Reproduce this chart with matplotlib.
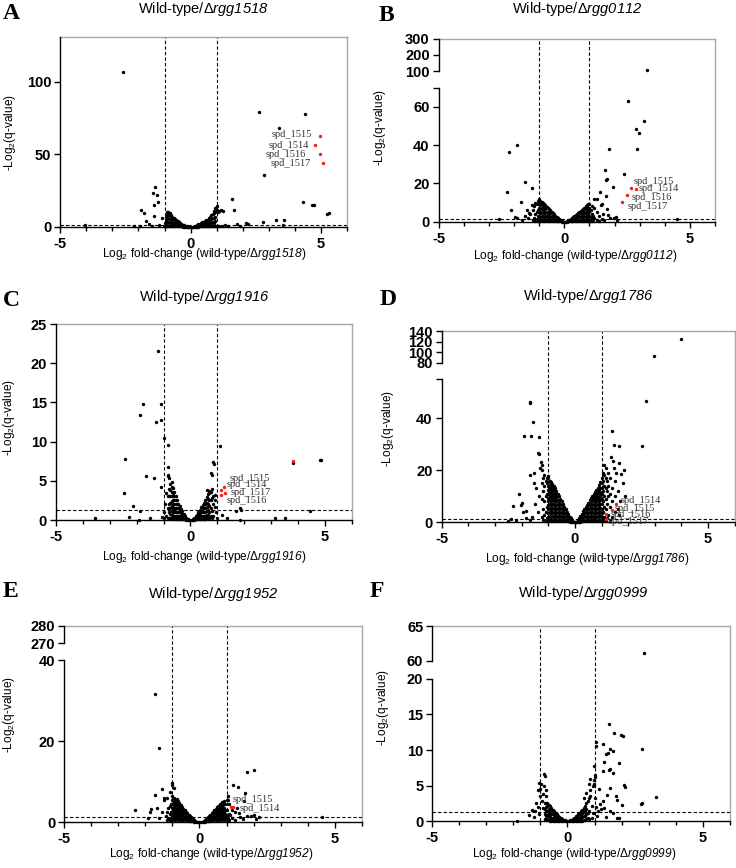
import numpy as np
import matplotlib
matplotlib.use('Agg')
import matplotlib.pyplot as plt
from matplotlib.ticker import MultipleLocator, NullLocator

plt.rcParams['font.family'] = ['Liberation Sans', 'DejaVu Sans']
plt.rcParams['mathtext.fontset'] = 'custom'
plt.rcParams['mathtext.rm'] = 'Liberation Sans'
plt.rcParams['mathtext.it'] = 'Liberation Sans:italic'
plt.rcParams['mathtext.sf'] = 'Liberation Sans:italic'
plt.rcParams['mathtext.bf'] = 'Liberation Sans:bold'

# ------------------------------------------------------------------ data
mutants = ['rgg1518', 'rgg0112', 'rgg1916', 'rgg1786', 'rgg1952', 'rgg0999']
letters = ['A', 'B', 'C', 'D', 'E', 'F']
fc_cut = 1.0
q_cut = 1.3
x_ticks = [-5, 0, 5]

# dense central clouds: (log2FC, [-log2 q values at that fold change])
a_cloud = [(-1.00, [0.5, 3]), (-0.95, [1, 4, 7]), (-0.90, [0.5, 3, 5.5, 8, 10]),
           (-0.85, [1, 3.5, 6, 8.5, 10.5]), (-0.80, [0.5, 3, 5.5, 8, 9.5]),
           (-0.75, [1, 3.5, 6, 8]), (-0.70, [0.5, 3, 5.5, 7]), (-0.65, [1, 3, 5, 6]),
           (-0.60, [0.5, 2.5, 4.5, 5.5]), (-0.55, [1, 3, 4.5]), (-0.50, [0.5, 2, 3.8]),
           (-0.45, [0.8, 2.3, 3.3]), (-0.40, [0.4, 1.6, 2.7]), (-0.35, [0.6, 1.6, 2.2]),
           (-0.30, [0.3, 1.1, 1.7]), (-0.25, [0.3, 0.9, 1.3]), (-0.20, [0.2, 0.8]),
           (-0.15, [0.1, 0.5]), (-0.10, [0.1, 0.3]), (-0.05, [0.05]), (0.00, [0.0]),
           (0.05, [0.05]), (0.10, [0.1, 0.3]), (0.15, [0.1, 0.5]), (0.20, [0.2, 0.8]),
           (0.25, [0.3, 1.0, 1.4]), (0.30, [0.3, 1.2, 1.8]), (0.35, [0.5, 1.5, 2.3]),
           (0.40, [0.4, 1.6, 2.8]), (0.45, [0.8, 2.2, 3.3]), (0.50, [0.5, 2, 3.6]),
           (0.55, [1, 2.5, 4]), (0.60, [0.5, 2.5, 4.5]), (0.65, [1, 3, 5]),
           (0.70, [0.5, 3, 5.5, 6]), (0.75, [1, 3.5, 6, 7]), (0.80, [0.5, 3, 5.5, 8]),
           (0.85, [1, 3.5, 6, 9]), (0.90, [0.5, 3, 6, 9.5, 11]), (0.95, [1, 4, 7, 10, 13]),
           (1.00, [0.5, 12, 14.5])]
b_cloud = [(-1.25, [1, 6]), (-1.20, [2, 8]), (-1.15, [0.5, 4, 10]), (-1.10, [1.5, 5, 9]),
           (-1.05, [0.5, 3, 6, 11]), (-1.00, [1, 3, 5, 7, 9, 12]),
           (-0.95, [0.5, 2.5, 4.5, 6.5, 8.5, 11]), (-0.90, [1, 3, 5, 7, 9, 10.5]),
           (-0.85, [0.5, 2.5, 4.5, 6.5, 8.5, 10]), (-0.80, [1, 3, 5, 7, 9]),
           (-0.75, [0.5, 2.5, 4.5, 6.5, 8.5]), (-0.70, [1, 3, 5, 7.5]),
           (-0.65, [0.5, 2.5, 4.5, 7]), (-0.60, [1, 3, 5, 6.5]), (-0.55, [0.5, 2.5, 4.5, 6]),
           (-0.50, [1, 3, 5]), (-0.45, [0.5, 2.5, 4.3]), (-0.40, [1, 2.5, 3.8]),
           (-0.35, [0.5, 2, 3.2]), (-0.30, [0.5, 1.5, 2.6]), (-0.25, [0.3, 1.2, 2]),
           (-0.20, [0.3, 1.2]), (-0.15, [0.2, 0.8]), (-0.10, [0.1, 0.4]), (-0.05, [0.05]),
           (0.00, [0.0]), (0.05, [0.05]), (0.10, [0.1, 0.4]), (0.15, [0.2, 0.7]),
           (0.20, [0.3, 1.1]), (0.25, [0.3, 1.0, 1.6]), (0.30, [0.5, 1.3, 2.1]),
           (0.35, [0.5, 1.5, 2.6]), (0.40, [1, 2, 3.2]), (0.45, [0.5, 2.2, 3.7]),
           (0.50, [1, 2.5, 4.2]), (0.55, [0.5, 2.5, 4.6]), (0.60, [1, 3, 5.2]),
           (0.65, [0.5, 2.5, 4.5, 5.8]), (0.70, [1, 3, 5, 6.3]), (0.75, [0.5, 2.5, 4.5, 6.8]),
           (0.80, [1, 3, 5, 7.3]), (0.85, [0.5, 2.5, 4.5, 6.5, 8]), (0.90, [1, 3, 5, 7, 8.5]),
           (0.95, [0.5, 2.5, 4.5, 6.5, 9]), (1.00, [1, 3, 5, 7, 9.5]), (1.05, [0.5, 2.5, 6]),
           (1.10, [1.5, 4, 8]), (1.15, [0.5, 3]), (1.20, [2, 7]), (1.30, [1, 5]), (1.40, [0.5, 3])]
c_cloud = [(-0.85, [0.3, 1.5, 3]), (-0.80, [0.2, 1, 2, 3, 4]),
           (-0.75, [0.3, 0.8, 1.5, 2.2, 3, 3.8, 4.6]),
           (-0.70, [0.2, 0.7, 1.2, 1.8, 2.4, 3, 3.6, 4.2, 4.9]),
           (-0.65, [0.1, 0.5, 1, 1.5, 2, 2.5, 3, 3.5, 4.1]),
           (-0.60, [0.1, 0.5, 1, 1.5, 2, 2.5, 3, 3.6]), (-0.55, [0.1, 0.5, 1, 1.5, 2, 2.5, 3.1]),
           (-0.50, [0.1, 0.5, 1, 1.5, 2, 2.6]), (-0.45, [0.1, 0.5, 1, 1.5, 2.1]),
           (-0.40, [0.1, 0.5, 1, 1.4, 1.8]), (-0.35, [0.1, 0.5, 0.9, 1.4]),
           (-0.30, [0.1, 0.4, 0.8, 1.1]), (-0.25, [0.1, 0.4, 0.8]), (-0.20, [0.1, 0.3, 0.55]),
           (-0.15, [0.05, 0.3]), (-0.10, [0.05, 0.15]), (-0.05, [0.03]), (0.00, [0.0]),
           (0.05, [0.03]), (0.10, [0.05, 0.15]), (0.15, [0.05, 0.3]), (0.20, [0.1, 0.3, 0.5]),
           (0.25, [0.1, 0.4, 0.7]), (0.30, [0.1, 0.4, 0.8, 1.0]), (0.35, [0.1, 0.5, 0.9, 1.3]),
           (0.40, [0.1, 0.5, 1, 1.6]), (0.45, [0.1, 0.5, 1, 1.5, 1.9]),
           (0.50, [0.1, 0.5, 1, 1.5, 2.2]), (0.55, [0.1, 0.5, 1, 1.5, 2, 2.5]),
           (0.60, [0.2, 0.6, 1.1, 1.6, 2.2, 2.9]), (0.65, [0.2, 0.7, 1.3, 2, 2.7, 3.3]),
           (0.70, [0.3, 1, 1.8, 2.6, 3.5]), (0.75, [0.5, 1.5, 2.5, 3.6]),
           (0.80, [0.3, 1.2, 2.8, 4.0]), (0.85, [0.5, 2])]
d_cloud = [(-1.25, [2, 9, 15]), (-1.20, [1, 5, 12, 17]), (-1.15, [3, 8, 14, 18]),
           (-1.10, [0.5, 4, 10, 16]), (-1.05, [1.5, 6, 11, 15, 17]),
           (-1.00, [0.5, 2, 3.5, 5, 6.5, 8, 9.5, 11, 12.5, 14, 15.5, 17, 17.8]),
           (-0.95, [1, 2.5, 4, 5.5, 7, 8.5, 10, 11.5, 13, 14.5, 16]),
           (-0.90, [0.5, 2, 3.5, 5, 6.5, 8, 9.5, 11, 12.5, 14, 15.5]),
           (-0.85, [1, 2.5, 4, 5.5, 7, 8.5, 10, 11.5, 13, 14.8]),
           (-0.80, [0.5, 2, 3.5, 5, 6.5, 8, 9.5, 11, 12.5, 14]),
           (-0.75, [1, 2.5, 4, 5.5, 7, 8.5, 10, 11.5, 13]),
           (-0.70, [0.5, 2, 3.5, 5, 6.5, 8, 9.5, 11, 12]),
           (-0.65, [1, 2.5, 4, 5.5, 7, 8.5, 10, 11]), (-0.60, [0.5, 2, 3.5, 5, 6.5, 8, 10]),
           (-0.55, [1, 2.5, 4, 5.5, 7, 9]), (-0.50, [0.5, 2, 3.5, 5, 6.5, 8]),
           (-0.45, [1, 2.5, 4, 5.5, 7]), (-0.40, [0.5, 2, 3.5, 5, 6]), (-0.35, [1, 2.5, 4, 5]),
           (-0.30, [0.5, 2, 3.2, 4]), (-0.25, [0.5, 1.5, 2.5, 3.2]), (-0.20, [0.3, 1.2, 2.2]),
           (-0.15, [0.3, 1, 1.6]), (-0.10, [0.2, 0.8]), (-0.05, [0.1, 0.3]), (0.00, [0.0]),
           (0.05, [0.1, 0.3]), (0.10, [0.2, 0.8]), (0.15, [0.3, 1, 1.6]), (0.20, [0.3, 1.2, 2.4]),
           (0.25, [0.5, 1.5, 2.5, 3.3]), (0.30, [0.5, 2, 3.2, 4.2]), (0.35, [1, 2.5, 4, 5.1]),
           (0.40, [0.5, 2, 3.5, 5, 6]), (0.45, [1, 2.5, 4, 5.5, 6.8]),
           (0.50, [0.5, 2, 3.5, 5, 6.5, 7.6]), (0.55, [1, 2.5, 4, 5.5, 7, 8.4]),
           (0.60, [0.5, 2, 3.5, 5, 6.5, 8, 9.2]), (0.65, [1, 2.5, 4, 5.5, 7, 8.5, 10]),
           (0.70, [0.5, 2, 3.5, 5, 6.5, 8, 9.5, 11]),
           (0.75, [1, 2.5, 4, 5.5, 7, 8.5, 10, 11.7]),
           (0.80, [0.5, 2, 3.5, 5, 6.5, 8, 9.5, 11, 12.4]),
           (0.85, [1, 2.5, 4, 5.5, 7, 8.5, 10, 11.5, 13.3]),
           (0.90, [0.5, 2, 3.5, 5, 6.5, 8, 9.5, 11, 12.5, 14.3]),
           (0.95, [1, 2.5, 4, 5.5, 7, 8.5, 10, 11.5, 13, 15.5]),
           (1.00, [0.5, 2, 3.5, 5, 7, 9, 11, 13, 15, 17]), (1.05, [1, 4, 8, 12, 16, 19]),
           (1.10, [2, 6, 10, 14, 18, 22]), (1.15, [0.5, 5, 9, 13, 17, 21]),
           (1.20, [1.5, 7, 12, 16]), (1.25, [3, 10, 14, 19]), (1.30, [1, 6, 11]),
           (1.40, [2, 8, 13]), (1.50, [4, 10, 16])]
e_cloud = [(-1.20, [0.5, 2.5]), (-1.15, [1, 3.5]), (-1.10, [0.5, 2, 4]), (-1.05, [1, 2.5, 4.5]),
           (-1.00, [0.5, 1.5, 2.5, 3.5, 4.5, 5.5, 6.5]), (-0.95, [1, 2, 3, 4, 5, 6]),
           (-0.90, [0.5, 1.5, 2.5, 3.5, 4.5, 5.5]), (-0.85, [1, 2, 3, 4, 5, 5.8]),
           (-0.80, [0.5, 1.5, 2.5, 3.5, 4.5, 5.2]), (-0.75, [1, 2, 3, 4, 4.8]),
           (-0.70, [0.5, 1.5, 2.5, 3.5, 4.3]), (-0.65, [1, 2, 3, 3.9]),
           (-0.60, [0.5, 1.5, 2.5, 3.4]), (-0.55, [1, 2, 3]), (-0.50, [0.5, 1.5, 2.6]),
           (-0.45, [0.5, 1.3, 2.2]), (-0.40, [0.4, 1.1, 1.8]), (-0.35, [0.3, 0.9, 1.5]),
           (-0.30, [0.3, 1.2]), (-0.25, [0.2, 0.9]), (-0.20, [0.1, 0.6]), (-0.15, [0.1, 0.35]),
           (-0.10, [0.1]), (-0.05, [0.05]), (0.00, [0.0]), (0.05, [0.05]), (0.10, [0.1]),
           (0.15, [0.1, 0.35]), (0.20, [0.1, 0.6]), (0.25, [0.2, 0.9]), (0.30, [0.3, 1.2]),
           (0.35, [0.3, 0.9, 1.6]), (0.40, [0.4, 1.1, 1.9]), (0.45, [0.5, 1.3, 2.2]),
           (0.50, [0.5, 1.5, 2.6]), (0.55, [1, 2, 3]), (0.60, [0.5, 1.5, 2.5, 3.3]),
           (0.65, [1, 2, 3, 3.7]), (0.70, [0.5, 1.5, 2.5, 3.5, 4.0]),
           (0.75, [1, 2, 3, 4, 4.4]), (0.80, [0.5, 1.5, 2.5, 3.5, 4.5]),
           (0.85, [1, 2, 3, 4, 4.9]), (0.90, [0.5, 1.5, 2.5, 3.5, 4.5, 5.2]),
           (0.95, [1, 2, 3, 4.5]), (1.00, [0.5, 1.5, 3, 5.5]), (1.05, [1, 6.5]),
           (1.10, [0.5, 2]), (1.20, [1, 3]), (1.30, [0.5, 2.5])]
f_cloud = [(-0.85, [0.3, 1, 1.7, 2.5]), (-0.80, [0.2, 0.8, 1.4, 2, 2.6]),
           (-0.75, [0.3, 0.9, 1.5, 2.1, 2.6]), (-0.70, [0.2, 0.7, 1.2, 1.7, 2.3]),
           (-0.65, [0.1, 0.6, 1.1, 1.6, 2.1]), (-0.60, [0.1, 0.5, 1, 1.5, 1.9]),
           (-0.55, [0.1, 0.5, 1, 1.6]), (-0.50, [0.1, 0.5, 0.9, 1.4]),
           (-0.45, [0.1, 0.5, 0.9, 1.2]), (-0.40, [0.1, 0.4, 0.8, 1.0]),
           (-0.35, [0.1, 0.4, 0.8]), (-0.30, [0.1, 0.35, 0.65]), (-0.25, [0.05, 0.3, 0.5]),
           (-0.20, [0.05, 0.35]), (-0.15, [0.05, 0.25]), (-0.10, [0.03, 0.12]),
           (-0.05, [0.02]), (0.00, [0.0]), (0.05, [0.02]), (0.10, [0.03, 0.12]),
           (0.15, [0.05, 0.25]), (0.20, [0.05, 0.35]), (0.25, [0.05, 0.3, 0.5]),
           (0.30, [0.1, 0.4, 0.7]), (0.35, [0.1, 0.4, 0.8]), (0.40, [0.1, 0.5, 1.0]),
           (0.45, [0.1, 0.5, 0.9, 1.2]), (0.50, [0.1, 0.5, 1, 1.4]),
           (0.55, [0.1, 0.6, 1.1, 1.6]), (0.60, [0.2, 0.7, 1.3, 1.9]),
           (0.65, [0.2, 0.8, 1.5, 2.2]), (0.70, [0.3, 1, 1.7, 2.5]), (0.75, [0.5, 1.2, 2.8]),
           (0.80, [0.3, 1.5, 3.2])]

# individual genes outside the cloud: (log2FC, -log2 q)
a_genes = [(-2.59, 106.4), (2.64, 79.4), (4.40, 78.0), (3.40, 68.4), (2.81, 35.5), (1.59, 19.2),
           (1.65, 11.9), (4.31, 16.9), (4.67, 15.3), (4.73, 15.1), (5.24, 9.2), (5.31, 9.6),
           (3.58, 5.0), (3.26, 4.6), (2.77, 3.4), (2.13, 2.7), (1.78, 2.1), (3.55, 1.1),
           (-1.36, 27.2), (-1.45, 23.3), (-1.29, 22.2), (-1.27, 17.4), (-1.42, 14.9),
           (-1.90, 11.4), (-1.78, 9.6), (-1.40, 7.8), (-1.08, 6.2), (-1.73, 3.9), (-1.96, 0.9),
           (-4.05, 1.1), (-2.19, 0.5), (-0.91, 3.2), (-1.04, 0.5), (1.05, 10), (1.1, 11),
           (1.15, 12), (1.26, 11), (1.2, 1), (1.3, 1.5), (1.05, 1), (1.1, 0.5), (-1.2, 1.5),
           (-1.5, 0.8), (-1.6, 2), (1.45, 1), (1.9, 0.8), (2.2, 1.8)]
b_genes = [(3.28, 108), (2.53, 63.1), (3.16, 52.5), (2.84, 48.4), (2.97, 46.1), (2.88, 37.8),
           (1.78, 37.8), (1.63, 26.9), (2.39, 25.1), (1.71, 22.2), (1.65, 21.7), (1.95, 17.9),
           (1.41, 15.6), (1.66, 13.5), (1.51, 9.5), (1.18, 11.8), (1.74, 3.5), (1.98, 1.7),
           (4.5, 1.4), (-1.87, 40.2), (-2.22, 36.2), (-1.57, 20.5), (-1.30, 17.7), (-2.30, 15.3),
           (-1.71, 10.2), (-2.14, 6.1), (-1.49, 6), (-1.39, 4.8), (-1.95, 2.6), (-2.59, 1.4),
           (1.55, 4), (1.6, 1), (1.7, 6.5), (1.45, 8.5), (1.8, 2), (1.5, 1.5), (-1.35, 4),
           (-1.45, 2), (-1.55, 3), (-1.7, 1), (-1.9, 2), (-1.3, 8.5), (2.05, 2.2), (2.1, 1.0),
           (1.3, 12)]
c_genes = [(-1.21, 21.5), (-1.75, 14.8), (-1.11, 14.8), (-1.86, 13.4), (-1.29, 12.5),
           (-1.10, 12.8), (-0.98, 10.5), (-0.85, 9.6), (-2.45, 7.8), (-0.83, 6.8), (-1.67, 5.6),
           (-1.36, 5.3), (-2.48, 3.5), (-2.13, 1.8), (-1.87, 1.2), (-2.28, 0.4), (-3.56, 0.3),
           (-1.93, 0.0), (-1.52, 0.3), (-0.84, 5.7), (-0.82, 5.6), (-0.79, 5.3), (-1.09, 4.2),
           (1.11, 9.4), (0.85, 7.4), (0.88, 7.1), (0.77, 6.0), (0.80, 5.7), (0.63, 3.8),
           (0.70, 3.7), (3.8, 7.3), (4.85, 7.7), (4.82, 7.6), (1.84, 1.5), (1.87, 1.3),
           (1.70, 1.1), (4.44, 1.1), (3.51, 0.3), (3.14, 0.2), (1.35, 0.2), (1.84, 0.0),
           (1.16, 0.6), (-1.0, 0.2), (-0.98, 1.0), (-0.95, 2.0), (-0.92, 0.5), (-1.05, 0.4),
           (-0.9, 3.4), (1.0, 0.3), (0.95, 1.0), (0.92, 2.5), (0.9, 3.2), (0.85, 3.0),
           (0.93, 1.6)]
d_genes = [(3.98, 125.8), (2.96, 92.8), (2.68, 46.8), (2.51, 29.4), (1.39, 35.1), (1.48, 29.7),
           (1.66, 29.5), (1.66, 22.9), (1.83, 20.0), (1.42, 23.7), (-1.69, 46.4), (-1.69, 45.8),
           (-1.57, 38.7), (-1.90, 33.2), (-1.64, 33.3), (-1.35, 32.7), (-1.39, 26.8),
           (-1.33, 26.3), (-1.28, 23.3), (-1.22, 22.1), (-1.52, 19.1), (-1.70, 18.2),
           (-1.22, 20.1), (-2.08, 10.8), (-2.32, 6.3), (-1.98, 7.3), (-2.01, 6.7), (-1.82, 4.4),
           (-2.39, 1.2), (-1.35, 10), (-1.4, 4), (-1.5, 7), (-1.45, 13), (-1.6, 2), (-1.55, 15),
           (-1.3, 21), (-1.7, 0.8), (-1.85, 1.5), (-1.95, 4), (-2.5, 0.5), (-2.2, 1), (1.6, 12),
           (1.7, 8), (1.65, 3), (1.8, 15), (1.75, 18.5), (1.9, 10), (1.55, 19), (1.45, 21),
           (1.35, 25), (1.3, 17), (1.6, 5)]
e_genes = [(-1.64, 31.6), (-1.51, 18.3), (-1.37, 8.3), (-1.63, 6.7), (-1.80, 3.2), (-2.37, 3.1),
           (-1.58, 3.5), (-1.89, 1.0), (2.0, 13.0), (1.75, 12.5), (1.23, 9.1), (1.43, 8.6),
           (1.69, 7.2), (1.63, 5.2), (2.02, 1.9), (2.19, 1.2), (4.53, 1.4), (1.48, 2.2),
           (1.75, 1.6), (1.14, 1.8), (-1.3, 5.5), (-1.25, 1.5), (-1.4, 2.5), (-1.5, 1),
           (-1.02, 9.2), (-1.0, 9.6), (-0.95, 8.5), (-1.1, 7.5), (-1.2, 6), (1.5, 1.2),
           (1.4, 3.5), (1.6, 0.7), (1.9, 1.5), (2.1, 0.8), (1.1, 4.5), (1.05, 5.5),
           (-1.83, 2.6), (-1.33, 5.9)]
f_genes = [(2.84, 61.1), (1.53, 13.7), (1.73, 12.4), (1.98, 12.1), (2.04, 11.9), (1.06, 11.1),
           (1.31, 10.9), (1.58, 10.1), (1.43, 9.5), (1.49, 9.6), (1.70, 9.8), (2.74, 10.2),
           (1.04, 10.5), (1.89, 8.2), (1.36, 8.3), (1.58, 7.4), (1.52, 7.2), (1.33, 7.0),
           (1.70, 6.8), (1.02, 6.2), (0.96, 4.9), (1.15, 4.6), (1.56, 4.7), (2.09, 5.1),
           (2.11, 4.8), (1.46, 3.7), (1.80, 3.5), (1.83, 3.0), (2.0, 2.3), (2.74, 2.5),
           (2.72, 2.4), (3.27, 3.4), (1.31, 2.8), (1.36, 1.8), (1.58, 1.4), (1.70, 1.1),
           (1.43, 0.6), (1.83, 0.4), (1.91, 0.4), (0.99, 5.8), (0.99, 5.3), (0.97, 7.7),
           (0.84, 6.0), (0.62, 3.3), (0.7, 4.0), (0.78, 5.2), (0.82, 4.4), (0.85, 3.6),
           (0.9, 2.2), (0.95, 1.2), (0.92, 0.5), (1.0, 6.5), (1.02, 3.2), (1.05, 2.0),
           (1.1, 0.8), (1.12, 1.5), (1.2, 2.4), (1.25, 1.7), (-0.88, 6.7), (-0.84, 6.3),
           (-1.07, 5.4), (-0.98, 5.2), (-0.86, 5.0), (-1.1, 4.4), (-0.79, 4.4), (-1.02, 3.6),
           (-0.78, 3.5), (-1.15, 2.5), (-1.2, 1.5), (-1.05, 1.0), (-1.25, 0.6), (-1.41, 0.9),
           (-1.88, 0.05), (-0.95, 2.8), (-0.92, 1.8), (-1.1, 2.0), (-1.3, 1.6), (-0.9, 3.8),
           (-1.0, 4.6)]

# highlighted (red) genes
a_red = [(4.95, 62.7), (4.76, 56.5), (4.95, 50.1), (5.06, 43.9)]
b_red = [(2.67, 17.5), (2.86, 17.0), (2.48, 13.9), (2.31, 10.4)]
c_red = [(1.25, 4.15), (1.14, 3.83), (1.28, 3.5), (1.14, 3.19), (3.8, 7.5)]
d_red = [(1.56, 6.9), (1.41, 4.9), (1.18, 3.1), (1.17, 1.4)]
e_red = [(1.17, 3.9), (1.25, 3.7)]
f_red = []

a_names = ['spd_1515', 'spd_1514', 'spd_1516', 'spd_1517']
b_names = ['spd_1515', 'spd_1514', 'spd_1516', 'spd_1517']
c_names = ['spd_1515', 'spd_1514', 'spd_1517', 'spd_1516']
d_names = ['spd_1514', 'spd_1515', 'spd_1516', 'spd_1517']
e_names = ['spd_1515', 'spd_1514']
f_names = []

a_yticks = [0, 50, 100]
b_yticks = [0, 20, 40, 60, 70, 100, 200, 300]
c_yticks = [0, 5, 10, 15, 20, 25]
d_yticks = [0, 20, 40, 55, 80, 100, 120, 140]
e_yticks = [0, 20, 40, 270, 280]
f_yticks = [0, 5, 10, 15, 20, 60, 65]
b_unlabeled = [70]
d_unlabeled = [55]

# ------------------------------------------------------------------ layout (pixels)
W, H = 736, 868
layout = [
    dict(rect=(60.3, 37, 347, 227), bd=[0, 130.8], bp=[0, 190], segs=[(0, 130.8)],
         title=(203, 13.3), letter=(3, 19.3), xl=(204, 256.7), yl=(10, 133),
         names_at=[(4.67, 62.2), (4.54, 54.7), (4.41, 48.5), (4.63, 42.1)], ha='right'),
    dict(rect=(438.7, 38.7, 715, 221.7), bd=[0, 70, 100, 300], bp=[0, 134, 150.4, 183],
         segs=[(0, 70), (100, 300)],
         title=(577, 12.7), letter=(379, 20.7), xl=(575, 259.3), yl=(380.5, 128),
         names_at=[(2.75, 19.6), (2.97, 16.1), (2.68, 11.3), (2.51, 6.6)], ha='left'),
    dict(rect=(56, 324, 351.7, 520), bd=[0, 25], bp=[0, 196], segs=[(0, 25)],
         title=(204, 301), letter=(3, 306), xl=(204, 560), yl=(9, 418),
         names_at=[(1.45, 5.0), (1.35, 4.2), (1.51, 3.2), (1.35, 2.2)], ha='left'),
    dict(rect=(441.7, 331.3, 734.7, 522.3), bd=[0, 55, 80, 140], bp=[0, 143, 159.6, 191],
         segs=[(0, 55), (80, 140)],
         title=(588, 300), letter=(380, 305), xl=(587, 561.7), yl=(388, 429),
         names_at=[(1.72, 7.3), (1.51, 4.5), (1.36, 2.2), (1.28, -0.6)], ha='left'),
    dict(rect=(64.3, 625.7, 361.7, 822.3), bd=[0, 40, 270, 280], bp=[0, 162, 179, 196.6],
         segs=[(0, 40), (270, 280)],
         title=(213, 598), letter=(3, 597), xl=(211, 856.7), yl=(9, 715),
         names_at=[(1.23, 4.9), (1.48, 2.8)], ha='left'),
    dict(rect=(432.3, 626, 729.7, 821.3), bd=[0, 20, 60, 65], bp=[0, 142.6, 160.3, 195.3],
         segs=[(0, 20), (60, 65)],
         title=(583, 597), letter=(370, 597), xl=(574, 856.7), yl=(383, 708),
         names_at=[], ha='left'),
]

clouds = [a_cloud, b_cloud, c_cloud, d_cloud, e_cloud, f_cloud]
genes = [a_genes, b_genes, c_genes, d_genes, e_genes, f_genes]
reds = [a_red, b_red, c_red, d_red, e_red, f_red]
names = [a_names, b_names, c_names, d_names, e_names, f_names]
yticks = [a_yticks, b_yticks, c_yticks, d_yticks, e_yticks, f_yticks]
unlabeled = [[], b_unlabeled, [], d_unlabeled, [], []]


def make_scale(d, p):
    d = np.asarray(d, float)
    p = np.asarray(p, float)
    s0 = (p[1] - p[0]) / (d[1] - d[0])
    s1 = (p[-1] - p[-2]) / (d[-1] - d[-2])
    D = np.concatenate([[d[0] - 1e4], d, [d[-1] + 1e4]])
    P = np.concatenate([[p[0] - 1e4 * s0], p, [p[-1] + 1e4 * s1]])
    return (lambda y: np.interp(y, D, P)), (lambda q: np.interp(q, P, D))


def fx(x):
    return x / W


def fy(y):
    return 1 - y / H


fig = plt.figure(figsize=(W / 100, H / 100), dpi=100)

for i in range(6):
    L = layout[i]
    l, t, r, b = L['rect']
    ax = fig.add_axes([fx(l), fy(b), (r - l) / W, (b - t) / H])
    fwd, inv = make_scale(L['bd'], L['bp'])
    ax.set_yscale('function', functions=(fwd, inv))
    ax.set_xlim(-5, 6)
    ax.set_ylim(L['bd'][0], L['bd'][-1])

    cx, cy = [], []
    for x, ys in clouds[i]:
        for y in ys:
            cx.append(x)
            cy.append(y)
    gx = [p[0] for p in genes[i]]
    gy = [p[1] for p in genes[i]]
    ax.scatter(cx + gx, cy + gy, s=6, c='black', linewidths=0, zorder=3, clip_on=False)
    if reds[i]:
        ax.scatter([p[0] for p in reds[i]], [p[1] for p in reds[i]], s=6, c='#ff1a1a',
                   linewidths=0, zorder=4, clip_on=False)
    for (tx, ty), nm in zip(L['names_at'], names[i]):
        ax.text(tx, ty, nm, ha=L['ha'], va='baseline', fontsize=7.5,
                family=['Liberation Serif', 'DejaVu Serif'], color='#333333', zorder=5)

    # thresholds
    for xv in (-fc_cut, fc_cut):
        ax.axvline(xv, color='black', lw=0.8, ls=(0, (3, 2)), zorder=2)
    ax.axhline(q_cut, color='black', lw=0.8, ls=(0, (3, 2)), zorder=2)

    # spines
    ax.spines['left'].set_visible(False)
    ax.spines['bottom'].set_linewidth(1.0)
    ax.spines['bottom'].set_color('black')
    for s in ('top', 'right'):
        ax.spines[s].set_color('#a6a6a6')
        ax.spines[s].set_linewidth(1.0)
    ytr = ax.get_yaxis_transform()
    for y0, y1 in L['segs']:
        ax.plot([0, 0], [y0, y1], color='black', lw=1.0, transform=ytr,
                clip_on=False, zorder=6, solid_capstyle='projecting')

    # ticks
    ax.set_xticks(x_ticks, [str(v) for v in x_ticks], fontweight='bold', fontsize=10.5)
    ax.xaxis.set_minor_locator(MultipleLocator(1))
    ylabels = ['' if v in unlabeled[i] else str(v) for v in yticks[i]]
    ax.set_yticks(yticks[i], ylabels, fontweight='bold', fontsize=10.5)
    ax.yaxis.set_minor_locator(NullLocator())
    ax.tick_params(axis='x', which='major', length=4.3, width=1, pad=3.0, direction='out')
    ax.tick_params(axis='x', which='minor', length=3.2, width=1, direction='out')
    ax.tick_params(axis='y', which='major', length=4.3, width=1, pad=2.2, direction='out')

    m = mutants[i]
    tx, ty = L['title']
    fig.text(fx(tx), fy(ty), 'Wild-type/Δ$\\mathsf{' + m + '}$', ha='center',
             va='baseline', fontsize=10.5)
    lx, ly = L['letter']
    fig.text(fx(lx), fy(ly), letters[i], ha='left', va='baseline', fontsize=17,
             fontweight='bold', family=['Liberation Serif', 'DejaVu Serif'])
    xx, xy = L['xl']
    fig.text(fx(xx), fy(xy), 'Log$_2$ fold-change (wild-type/Δ$\\mathsf{' + m + '}$)',
             ha='center', va='baseline', fontsize=8.6)
    yx, yy = L['yl']
    fig.text(fx(yx), fy(yy), '-Log$_2$(q-value)', ha='center', va='center',
             rotation=90, fontsize=8.6)

fig.savefig('out.png', dpi=100)
